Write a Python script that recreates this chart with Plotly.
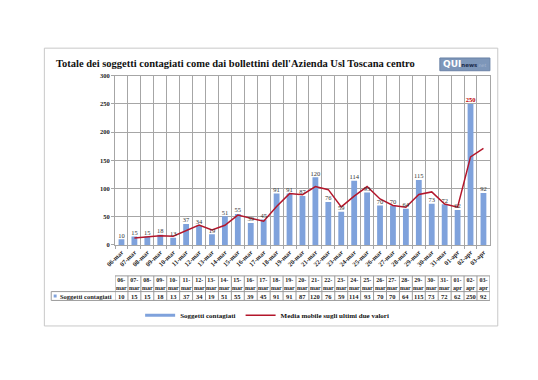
import plotly.graph_objects as go

dates = ["06-mar", "07-mar", "08-mar", "09-mar", "10-mar", "11-mar", "12-mar", "13-mar",
         "14-mar", "15-mar", "16-mar", "17-mar", "18-mar", "19-mar", "20-mar", "21-mar",
         "22-mar", "23-mar", "24-mar", "25-mar", "26-mar", "27-mar", "28-mar", "29-mar",
         "30-mar", "31-mar", "01-apr", "02-apr", "03-apr"]
contagiati = [10, 15, 15, 18, 13, 37, 34, 19, 51, 55, 39, 45, 91, 91, 87, 120,
              76, 59, 114, 93, 70, 70, 64, 115, 73, 72, 62, 250, 92]
media_dates = dates[1:]
media_mobile = [12.5, 15, 16.5, 15.5, 25, 35.5, 26.5, 35, 53, 47, 42, 68, 91, 89, 103.5,
                98, 67.5, 86.5, 103.5, 81.5, 70, 67, 89.5, 94, 72.5, 67, 156, 171]
y_ticks = [0, 50, 100, 150, 200, 250, 300]

title = "Totale dei soggetti contagiati come dai bollettini dell'Azienda Usl Toscana centro"
bar_name = "Soggetti contagiati"
line_name = "Media mobile sugli ultimi due valori"

W, H = 538, 380
def py(px):
    return 1 - px / H
def pxx(px):
    return px / W

SERIF = "Liberation Serif"
BLUE = "#7fa2dc"
RED = "#b3162b"
GRID = "#a6a6a6"

fig = go.Figure()

fig.add_trace(go.Bar(
    x=dates, y=contagiati, name=bar_name, width=0.45,
    marker=dict(color=BLUE, line=dict(width=0)),
    showlegend=False, hoverinfo="x+y",
))
fig.add_trace(go.Scatter(
    x=media_dates, y=media_mobile, mode="lines", name=line_name,
    line=dict(color=RED, width=1.5), showlegend=False,
))
label_colors = ["#c00000" if v == max(contagiati) else "#333333" for v in contagiati]
label_text = ["<b>%d</b>" % v if v == max(contagiati) else str(v) for v in contagiati]
fig.add_trace(go.Scatter(
    x=dates, y=contagiati, mode="text", text=label_text, textposition="top center",
    textfont=dict(family=SERIF, size=6.5, color=label_colors),
    showlegend=False, hoverinfo="skip", cliponaxis=False,
))
# legend-only entries drawn as lines (as in the original)
fig.add_trace(go.Scatter(x=[None], y=[None], mode="lines", name=bar_name,
                         line=dict(color=BLUE, width=3)))
fig.add_trace(go.Scatter(x=[None], y=[None], mode="lines", name=line_name,
                         line=dict(color=RED, width=1.5)))

shapes = []
annotations = []

# outer frame
shapes.append(dict(type="rect", xref="paper", yref="paper",
                   x0=pxx(35), x1=pxx(497), y0=py(328), y1=py(45),
                   line=dict(color="#c8c8c8", width=1), layer="below"))

# data table below the axis
t_top, t_mid, t_bot = 277, 293, 302
n = len(dates)
shapes.append(dict(type="line", xref="x", yref="paper",
                   x0=-0.5, x1=n - 0.5, y0=py(t_top), y1=py(t_top),
                   line=dict(color="#9a9a9a", width=1)))
for yv in (t_mid, t_bot):
    shapes.append(dict(type="line", xref="paper", yref="paper",
                       x0=pxx(42), x1=pxx(489), y0=py(yv), y1=py(yv),
                       line=dict(color="#9a9a9a", width=1)))
for i in range(n + 1):
    shapes.append(dict(type="line", xref="x", yref="paper",
                       x0=i - 0.5, x1=i - 0.5, y0=py(t_top), y1=py(t_bot),
                       line=dict(color="#9a9a9a", width=1)))
shapes.append(dict(type="line", xref="paper", yref="paper",
                   x0=pxx(42), x1=pxx(42), y0=py(t_mid), y1=py(t_bot),
                   line=dict(color="#9a9a9a", width=1)))

for d, v in zip(dates, contagiati):
    day, mon = d.split("-")
    annotations.append(dict(xref="x", yref="paper", x=d, y=py((t_top + t_mid) / 2),
                            text=f"{day}-<br>{mon}", showarrow=False,
                            font=dict(family=SERIF, size=6, color="#222", weight="bold"),
                            xanchor="center", yanchor="middle"))
    annotations.append(dict(xref="x", yref="paper", x=d, y=py((t_mid + t_bot) / 2),
                            text=str(v), showarrow=False,
                            font=dict(family=SERIF, size=6.5, color="#222", weight="bold"),
                            xanchor="center", yanchor="middle"))
# row header
shapes.append(dict(type="rect", xref="paper", yref="paper",
                   x0=pxx(44.5), x1=pxx(47.5), y0=py(299), y1=py(296),
                   fillcolor=BLUE, line=dict(width=0)))
annotations.append(dict(xref="paper", yref="paper", x=pxx(49), y=py(297.5),
                        text=bar_name, showarrow=False,
                        font=dict(family=SERIF, size=6.5, color="#222", weight="bold"),
                        xanchor="left", yanchor="middle"))

# title
annotations.append(dict(xref="paper", yref="paper", x=pxx(45), y=py(61),
                        text=title, showarrow=False,
                        font=dict(family=SERIF, size=10.5, color="#111", weight="bold"),
                        xanchor="left", yanchor="middle"))

# logo
shapes.append(dict(type="rect", xref="paper", yref="paper",
                   x0=pxx(438), x1=pxx(489), y0=py(68), y1=py(55),
                   fillcolor="#7d96b9", line=dict(color="#6a82a6", width=1)))
annotations.append(dict(xref="paper", yref="paper", x=pxx(463.5), y=py(61.5),
                        text="<b>QUI</b><span style='font-size:5.5px;color:#1d2d4d'><b>news</b></span>"
                             "<span style='font-size:4.5px;color:#a9bad3'>.net</span>",
                        showarrow=False,
                        font=dict(family="DejaVu Sans", size=9, color="white"),
                        xanchor="center", yanchor="middle"))

fig.update_layout(
    width=W, height=H,
    margin=dict(l=0, r=0, t=0, b=0),
    paper_bgcolor="white", plot_bgcolor="white",
    bargap=0.55,
    shapes=shapes, annotations=annotations,
    legend=dict(orientation="h", x=pxx(262), xanchor="center", y=py(317), yanchor="middle",
                font=dict(family=SERIF, size=7, color="#111", weight="bold"),
                itemwidth=30, tracegroupgap=0, bgcolor="rgba(0,0,0,0)"),
    xaxis=dict(domain=[pxx(107), pxx(489)], type="category", range=[-0.5, n - 0.5],
               tickson="boundaries", showgrid=True, gridcolor=GRID, gridwidth=1,
               showline=True, linecolor=GRID, mirror=True,
               ticks="outside", ticklen=3, tickcolor=GRID,
               tickangle=-45,
               tickfont=dict(family=SERIF, size=6.5, color="#222", weight="bold")),
    yaxis=dict(domain=[py(245.5), py(73)], range=[0, 300], tickvals=y_ticks,
               showgrid=True, gridcolor=GRID, gridwidth=1,
               showline=True, linecolor=GRID, mirror=True,
               ticks="outside", ticklen=3, tickcolor=GRID, zeroline=False,
               tickfont=dict(family=SERIF, size=6.5, color="#222", weight="bold")),
)

fig.write_html("out.html", config={"displayModeBar": False},
               post_script="document.body.style.margin='0';")
